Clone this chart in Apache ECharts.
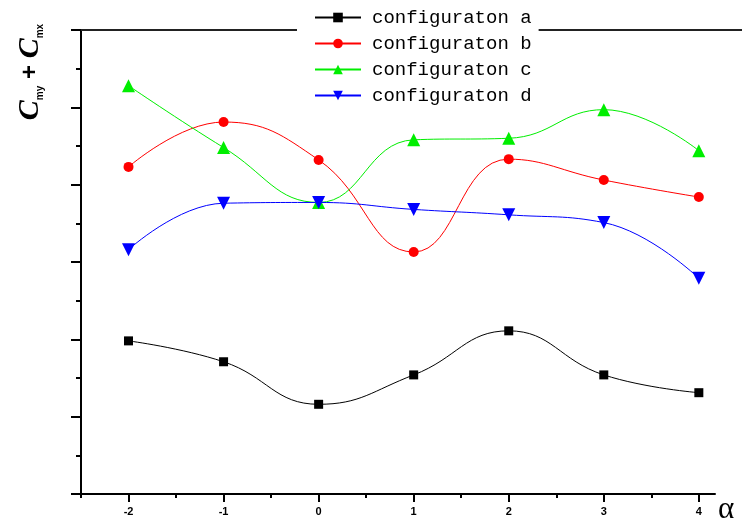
<!DOCTYPE html>
<html>
<head>
<meta charset="utf-8">
<script src="https://cdn.jsdelivr.net/npm/echarts@6/dist/echarts.min.js"></script>
<style>
  html, body { margin: 0; padding: 0; background: #fff; }
  #chart { width: 742px; height: 526px; }
</style>
</head>
<body>
<div id="chart"></div>
<script>
// angle values (x axis)
const alphaValues = [-2, -1, 0, 1, 2, 3, 4];
const halfTicks = [-2.5, -1.5, -0.5, 0.5, 1.5, 2.5, 3.5];

// series
const configA = [1.98, 1.71, 1.16, 1.54, 2.11, 1.54, 1.31];
const configB = [4.23, 4.81, 4.32, 3.13, 4.33, 4.06, 3.84];
const configC = [5.28, 4.48, 3.77, 4.58, 4.60, 4.97, 4.44];
const configD = [3.16, 3.76, 3.77, 3.68, 3.61, 3.51, 2.79];

const seriesNames = ["configuraton a", "configuraton b", "configuraton c", "configuraton d"];

const chart = echarts.init(document.getElementById("chart"));

function pairs(vals) {
  return alphaValues.map((x, i) => [x, vals[i]]);
}

function makeSeries(name, vals, color, symbol, size) {
  return {
    name: name,
    type: "line",
    smooth: 0.45,
    data: pairs(vals),
    symbol: symbol,
    symbolSize: size,
    itemStyle: { color: color },
    lineStyle: { color: color, width: 1 },
    z: 3
  };
}

const axisColor = "#000";

chart.setOption({
  animation: false,
  backgroundColor: "#fff",
  grid: { left: 81, top: 30, right: 27, bottom: 32 },
  legend: {
    left: 297,
    top: 4,
    orient: "vertical",
    backgroundColor: "#fff",
    padding: [4, 7, 4, 17],
    itemWidth: 46,
    itemHeight: 12,
    itemGap: 7,
    textStyle: {
      fontFamily: "Liberation Mono",
      fontSize: 19,
      lineHeight: 19,
      padding: [0, 0, 0, 6],
      color: "#000"
    },
    data: seriesNames
  },
  xAxis: [
    {
      type: "value",
      min: -2.5,
      max: 4.17,
      axisLine: { show: true, onZero: false, lineStyle: { color: axisColor, width: 2 } },
      axisTick: {
        show: true,
        customValues: alphaValues,
        length: 8,
        lineStyle: { color: axisColor, width: 2 }
      },
      axisLabel: {
        show: true,
        customValues: alphaValues,
        margin: 12,
        fontSize: 11,
        fontWeight: "bold",
        fontFamily: "Liberation Sans",
        color: "#000"
      },
      splitLine: { show: false },
      name: "α",
      nameLocation: "end",
      nameGap: 3,
      nameTextStyle: {
        fontSize: 31,
        fontFamily: "Liberation Serif",
        color: "#000",
        verticalAlign: "top",
        padding: [0, 0, 0, 0]
      }
    },
    {
      type: "value",
      min: -2.5,
      max: 4.17,
      position: "bottom",
      axisLine: { show: false, onZero: false },
      axisTick: {
        show: true,
        customValues: halfTicks,
        length: 4,
        lineStyle: { color: axisColor, width: 2 }
      },
      axisLabel: { show: false },
      splitLine: { show: false }
    }
  ],
  yAxis: {
    type: "value",
    min: 0,
    max: 6,
    interval: 1,
    axisLine: { show: true, onZero: false, lineStyle: { color: axisColor, width: 2 } },
    axisTick: { show: true, length: 10, lineStyle: { color: axisColor, width: 2 } },
    minorTick: { show: true, splitNumber: 2, length: 5, lineStyle: { color: axisColor, width: 2 } },
    axisLabel: { show: false },
    splitLine: { show: false }
  },
  graphic: [
    {
      type: "line",
      z: 1,
      shape: { x1: 81, y1: 30, x2: 742, y2: 30 },
      style: { stroke: "#222", lineWidth: 2 }
    },
    {
      type: "text",
      x: 30,
      y: 72,
      rotation: Math.PI / 2,
      style: {
        text: "{c|C}{s|my}{p| + }{c|C}{s|mx}",
        align: "center",
        verticalAlign: "middle",
        fill: "#000",
        rich: {
          c: { fontSize: 30, fontStyle: "italic", fontWeight: "bold", fontFamily: "Liberation Serif", verticalAlign: "top" },
          s: { fontSize: 10, fontWeight: "bold", fontFamily: "Liberation Sans", verticalAlign: "bottom" },
          p: { fontSize: 24, fontWeight: "bold", fontFamily: "Liberation Sans" }
        }
      }
    }
  ],
  series: [
    makeSeries(seriesNames[0], configA, "#000000", "rect", 9),
    makeSeries(seriesNames[1], configB, "#ff0000", "circle", 10),
    makeSeries(seriesNames[2], configC, "#00ee00", "triangle", 13),
    makeSeries(seriesNames[3], configD, "#0000ff", "path://M0,0 L10,0 L5,10 Z", 13)
  ]
});
</script>
</body>
</html>
